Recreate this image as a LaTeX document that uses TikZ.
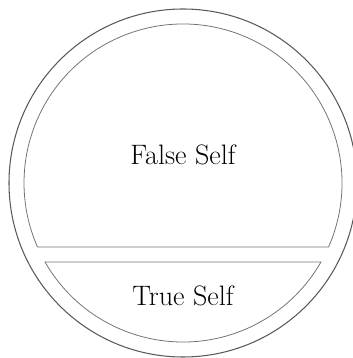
\documentclass[tikz,border=0pt]{standalone}
\usepackage{tikz}
\usetikzlibrary{calc}

\begin{document}
\begin{tikzpicture}[
  font=\fontsize{16}{19}\selectfont,
  rim/.style={draw=black!65, line width=0.6pt},
  part/.style={draw=black!55, line width=0.45pt},
  lbl/.style={inner sep=0pt, text=black}]
  \useasboundingbox (0,0) rectangle (7.04,7.16);
  \coordinate (c) at (3.66,3.50);
  \draw[rim] (c) circle[radius=3.48];
  % upper part of the inner circle
  \draw[part] ($(c)+(-23.7:3.18)$) arc[start angle=-23.7, end angle=203.7, radius=3.18] -- cycle;
  % lower part of the inner circle
  \draw[part] ($(c)+(209.8:3.18)$) arc[start angle=209.8, end angle=330.2, radius=3.18] -- cycle;
  \node[lbl] (false) at (3.66,4.06) {False Self};
  \node[lbl] (true) at (3.66,1.24) {True Self};
\end{tikzpicture}
\end{document}
